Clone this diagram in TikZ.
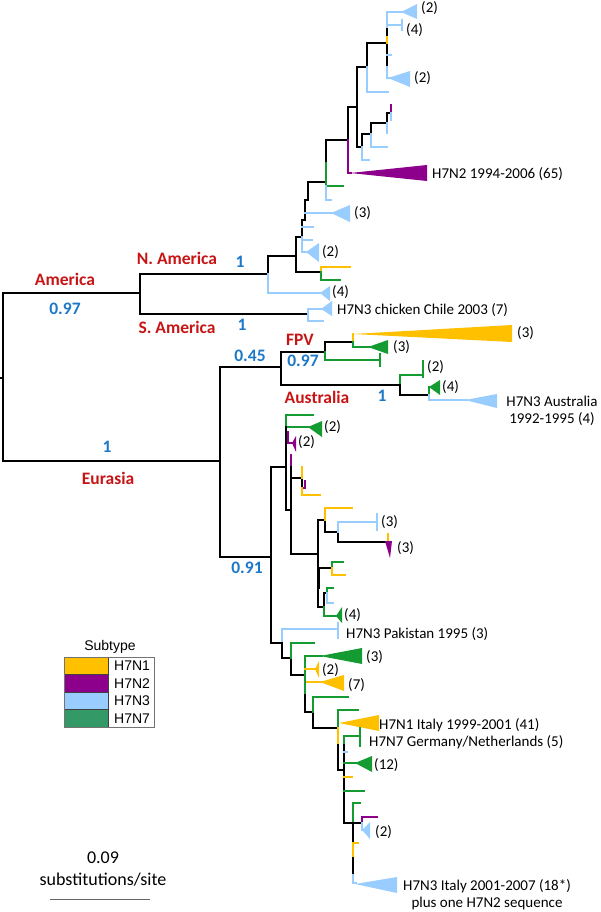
\documentclass[tikz,border=0pt]{standalone}
\usepackage{fontspec}
\setmainfont{Carlito}
\newfontfamily\legendfont{Liberation Sans}
\usetikzlibrary{positioning}
\definecolor{hyellow}{RGB}{255,192,0}
\definecolor{hpurple}{RGB}{140,0,140}
\definecolor{hblue}{RGB}{153,204,255}
\definecolor{hgreen}{RGB}{20,155,50}
\definecolor{lgreen}{RGB}{51,153,102}
\definecolor{regred}{RGB}{200,20,20}
\definecolor{supblue}{RGB}{30,120,200}
\tikzset{branch/.style = {draw=black, line width=1.8pt, line cap=rect},
         yel/.style = {branch, draw=hyellow},
         pur/.style = {branch, draw=hpurple},
         blu/.style = {branch, draw=hblue},
         grn/.style = {branch, draw=hgreen},
         tip/.style = {anchor=west, inner sep=0pt, font=\fontsize{15}{17}\selectfont},
         region/.style = {inner sep=0pt, text=regred, font=\bfseries\fontsize{17.5}{19}\selectfont},
         support/.style = {inner sep=0pt, text=supblue, font=\bfseries\fontsize{17.5}{19}\selectfont},
         legtext/.style = {inner sep=0pt, font=\legendfont\fontsize{14}{16}\selectfont},
         swatch/.style = {draw=black!75, line width=0.8pt},
         scaletext/.style = {inner sep=0pt, font=\fontsize{18}{20}\selectfont},
}
\newcommand{\cladetri}[6]{\fill[#1] (#2,#3) -- (#4,#5) -- (#4,#6) -- cycle;}
\newcommand{\cladebar}[4]{\draw[#1, line width=1.6pt] (#2,#3) -- (#2,#4);}

\begin{document}
\begin{tikzpicture}[x=1pt, y=-1pt]
  \useasboundingbox (0,0) rectangle (600,912);

  % backbone
  \coordinate (root) at (3,378);
  \coordinate (amer) at (140,293);
  \coordinate (namer) at (268,274);
  \coordinate (samer) at (308,314);
  \coordinate (eura) at (220,461);
  \coordinate (fpvaus) at (281,367);
  \coordinate (fpv) at (325,352);
  \coordinate (aus) at (400,385);
  \coordinate (eurrest) at (271,557);

  \draw[branch] (amer) -| (root) |- (eura);
  \draw[branch] (root) -- ++(-3,0);
  \draw[branch] (namer) -| (amer) |- (samer);
  \draw[branch] (fpvaus) -| (eura) |- (eurrest);
  \draw[branch] (fpv) -| (fpvaus) |- (aus);

  % N. America
  \draw[branch] (namer) |- (296,256);
  \draw[branch] (296,272) -- (296,237) -- (302,237) -- (302,220) -- (305,220) -- (305,200) -- (308,200) -- (308,182) -- (326,182);
  \draw[branch] (296,272) -- (321,272);
  \draw[yel] (321,272) -- (321,267) -- (350,267);
  \draw[grn] (321,272) -- (321,280) -- (340,280);
  \draw[blu] (namer) -- (268,293) -- (322,293);
  \cladetri{hblue}{320}{293}{330}{286}{301}
  \draw[blu] (302,237) -- (302,252) -- (308,252);
  \draw[blu] (302,240) -- (312,240);
  \cladetri{hblue}{306}{252}{319}{243}{262}
  \draw[blu] (305,213) -- (333,213);
  \cladetri{hblue}{331}{213}{350}{205}{222}
  \draw[blu] (302,227) -- (313,227);
  \draw[branch] (326,163) -- (326,140) -- (348,140);
  \draw[grn] (326,163) -- (326,186) -- (343,186);
  \draw[blu] (326,186) -- (326,200) -- (331,200);
  \draw[branch] (348,140) -- (348,107) -- (357,107);
  \draw[pur] (348,140) -- (348,173) -- (351,173);
  \cladetri{hpurple}{350}{173}{427}{165}{181}
  \draw[branch] (357,107) -- (357,147) -- (362,147);
  \draw[branch] (357,107) -- (357,67) -- (367,67) -- (367,43) -- (387,43);
  \draw[blu] (367,67) -- (367,92) -- (388,92);
  \draw[branch] (387,27) -- (387,67);
  \draw[yel] (387,37) -- (387,43);
  \draw[blu] (387,27) -- (387,12) -- (403,12);
  \cladetri{hblue}{401}{12}{417}{4}{19}
  \draw[blu] (387,25) -- (402,25);
  \cladebar{hblue}{402}{19}{31}
  \draw[blu] (387,55) -- (391,55);
  \draw[blu] (387,67) -- (387,78) -- (390,78);
  \cladetri{hblue}{388}{78}{410}{71}{87}
  \draw[branch] (362,147) -- (362,134) -- (371,134) -- (371,123) -- (387,123) -- (387,113) -- (390,113);
  \draw[blu] (362,147) -- (362,160) -- (369,160);
  \draw[blu] (371,134) -- (371,147) -- (387,147);
  \draw[blu] (387,123) -- (387,133);
  \draw[pur] (391,113) -- (391,105);
  \draw[blu] (391,113) -- (391,120);

  % S. America
  \draw[blu] (samer) -- (308,309) -- (323,309);
  \draw[blu] (samer) -- (308,321) -- (323,321);
  \cladetri{hblue}{321}{309}{332}{301}{316}

  % FPV
  \draw[branch] (fpv) -- (325,342) -- (353,342);
  \draw[yel] (353,342) -- (353,334);
  \cladetri{hyellow}{353}{334}{512}{325}{342}
  \draw[grn] (353,342) -- (353,347) -- (370,347);
  \cladetri{hgreen}{368}{347}{388}{340}{354}
  \draw[grn] (fpv) -- (325,360) -- (380,360);
  \cladebar{hgreen}{380}{353}{367}

  % Australia
  \draw[grn] (aus) -- (400,375) -- (423,375);
  \cladebar{hgreen}{423}{360}{378}
  \draw[branch] (aus) -- (400,395) -- (429,395);
  \draw[grn] (429,395) -- (429,387) -- (431,387);
  \cladetri{hgreen}{429}{387}{440}{380}{395}
  \draw[blu] (429,395) -- (429,400) -- (467,400);
  \cladetri{hblue}{465}{400}{497}{394}{408}

  % Eurasia, upper part
  \draw[branch] (286,467) -| (eurrest) |- (282,643);
  \draw[grn] (286,427) -- (286,415) -- (313,415);
  \draw[grn] (286,427) -- (310,427);
  \cladetri{hgreen}{308}{427}{322}{421}{437}
  \draw[branch] (286,427) -- (286,510) -- (291,510);
  \draw[pur] (288,432) -- (288,443) -- (294,443);
  \cladetri{hpurple}{292}{443}{296}{436}{452}
  \draw[pur] (291,467) -- (291,455);
  \draw[branch] (291,467) -- (291,554) -- (318,554);
  \draw[branch] (291,478) -- (302,478) -- (302,488);
  \draw[yel] (302,478) -- (302,467);
  \draw[pur] (302,488) -- (305,488) -- (305,481);
  \draw[yel] (302,488) -- (302,495) -- (320,495);
  \draw[branch] (318,520) -- (318,607) -- (324,607);
  \draw[branch, line width=3pt] (318,568) -- (318,587);
  \draw[branch] (318,520) -- (325,520) -- (325,532) -- (338,532) -- (338,542) -- (388,542);
  \draw[yel] (325,520) -- (325,508) -- (352,508);
  \draw[blu] (338,532) -- (338,522) -- (377,522);
  \cladebar{hblue}{377}{513}{531}
  \draw[yel] (388,542) -- (388,534);
  \fill[hpurple] (385,541) -- (392,541) -- (390,558) -- cycle;
  \draw[branch] (318,568) -- (332,568);
  \draw[grn] (332,568) -- (332,562) -- (343,562);
  \draw[yel] (332,568) -- (332,575) -- (345,575);
  \draw[branch] (324,607) -- (324,593) -- (327,593);
  \draw[grn] (327,593) -- (327,588) -- (333,588);
  \draw[blu] (327,593) -- (327,603) -- (333,603);
  \draw[grn] (324,607) -- (324,616) -- (337,616);
  \cladetri{hgreen}{336}{616}{342}{607}{623}

  % Eurasia, lower part
  \draw[blu] (282,643) -- (282,629) -- (338,629);
  \cladebar{hblue}{338}{622}{639}
  \draw[branch] (282,643) -- (282,658) -- (291,658) -- (291,675) -- (305,675);
  \draw[grn] (291,658) -- (291,643) -- (314,643);
  \draw[grn] (305,675) -- (305,656) -- (322,656);
  \cladetri{hgreen}{320}{656}{362}{648}{664}
  \draw[yel] (305,669) -- (317,669);
  \cladetri{hyellow}{315}{669}{319}{661}{678}
  \draw[yel] (305,682) -- (322,682);
  \cladetri{hyellow}{320}{682}{344}{675}{691}
  \draw[grn] (305,675) -- (305,695);
  \draw[branch] (305,695) -- (305,712) -- (313,712) -- (313,728) -- (338,728);
  \draw[grn] (313,712) -- (313,697) -- (348,697);
  \draw[grn] (338,728) -- (338,710) -- (358,710);
  \cladetri{hyellow}{339}{723}{379}{715}{731}
  \draw[yel] (338,728) -- (338,745);
  \draw[branch] (338,745) -- (338,770) -- (344,770);
  \draw[grn] (344,745) -- (344,736) -- (360,736);
  \cladebar{hgreen}{360}{727}{747}
  \draw[branch] (344,745) -- (344,823) -- (362,823);
  \draw[blu] (344,752) -- (347,752);
  \draw[grn] (344,763) -- (357,763);
  \cladetri{hgreen}{355}{763}{372}{756}{772}
  \draw[yel] (344,777) -- (352,777);
  \draw[grn] (344,791) -- (364,791);
  \draw[grn] (353,823) -- (353,803) -- (360,803);
  \draw[branch] (353,823) -- (353,843);
  \draw[yel] (353,843) -- (353,858);
  \draw[yel] (353,843) -- (358,843);
  \draw[branch] (353,858) -- (353,875);
  \draw[blu] (353,875) -- (353,883) -- (356,883);
  \cladetri{hblue}{355}{884}{397}{877}{893}
  \draw[pur] (362,823) -- (362,817) -- (377,817);
  \draw[blu] (362,823) -- (362,830);
  \cladetri{hblue}{362}{830}{370}{822}{839}

  % tip labels
  \node[tip] (t1) at (421,8) {(2)};
  \node[tip] (t2) at (406,30) {(4)};
  \node[tip] (t3) at (414,78) {(2)};
  \node[tip] (t4) at (432,174) {H7N2 1994-2006 (65)};
  \node[tip] (t5) at (354,213) {(3)};
  \node[tip] (t6) at (322,252) {(2)};
  \node[tip] (t7) at (332,292) {(4)};
  \node[tip] (t8) at (337,310) {H7N3 chicken Chile 2003 (7)};
  \node[tip] (t9) at (517,333) {(3)};
  \node[tip] (t10) at (393,347) {(3)};
  \node[tip] (t11) at (427,367) {(2)};
  \node[tip] (t12) at (442,387) {(4)};
  \node[tip, anchor=center, align=center] (t13) at (552,411) {H7N3 Australia\\1992-1995 (4)};
  \node[tip] (t14) at (324,427) {(2)};
  \node[tip] (t15) at (298,442) {(2)};
  \node[tip] (t16) at (381,522) {(3)};
  \node[tip] (t17) at (397,548) {(3)};
  \node[tip] (t18) at (344,615) {(4)};
  \node[tip] (t19) at (346,634) {H7N3 Pakistan 1995 (3)};
  \node[tip] (t20) at (366,657) {(3)};
  \node[tip] (t21) at (322,670) {(2)};
  \node[tip] (t22) at (348,685) {(7)};
  \node[tip] (t23) at (379,725) {H7N1 Italy 1999-2001 (41)};
  \node[tip] (t24) at (369,742) {H7N7 Germany/Netherlands (5)};
  \node[tip] (t25) at (374,765) {(12)};
  \node[tip] (t26) at (375,832) {(2)};
  \node[tip, anchor=center, align=center] (t27) at (487,895) {H7N3 Italy 2001-2007 (18*)\\plus one H7N2 sequence};

  % clade names and support values
  \node[region] (rAm) at (65,279) {America};
  \node[region] (rNA) at (177,258) {N. America};
  \node[region] (rSA) at (177,327) {S. America};
  \node[region] (rEu) at (108,478) {Eurasia};
  \node[region] (rFPV) at (300,340) {FPV};
  \node[region] (rAu) at (317,397) {Australia};
  \node[support] (sAm) at (65,309) {0.97};
  \node[support] (sNA) at (240,262) {1};
  \node[support] (sSA) at (242,325) {1};
  \node[support] (sEu) at (107,447) {1};
  \node[support] (sFA) at (250,356) {0.45};
  \node[support] (sFPV) at (303,361) {0.97};
  \node[support] (sAu) at (382,396) {1};
  \node[support] (sRest) at (247,568) {0.91};

  % legend
  \node[legtext] (leg) at (110,647) {Subtype};
  \draw[swatch, fill=hyellow] (64,657) rectangle (108,674.5);
  \draw[swatch, fill=hpurple] (64,674.5) rectangle (108,692);
  \draw[swatch, fill=hblue] (64,692) rectangle (108,709.5);
  \draw[swatch, fill=lgreen] (64,709.5) rectangle (108,727);
  \draw[black!55, line width=0.8pt] (64,657) rectangle (154,727);
  \node[legtext, anchor=west] (lg1) at (114,666) {H7N1};
  \node[legtext, anchor=west] (lg2) at (114,683.5) {H7N2};
  \node[legtext, anchor=west] (lg3) at (114,701) {H7N3};
  \node[legtext, anchor=west] (lg4) at (114,718.5) {H7N7};

  % scale bar
  \node[scaletext] (sval) at (103,858) {0.09};
  \node[scaletext] (sunit) at (103,880) {substitutions/site};
  \coordinate (sbL) at (50,899);
  \coordinate (sbR) at (150,899);
  \draw[black!60, line width=1pt] (sbL) -- (sbR);
\end{tikzpicture}
\end{document}
